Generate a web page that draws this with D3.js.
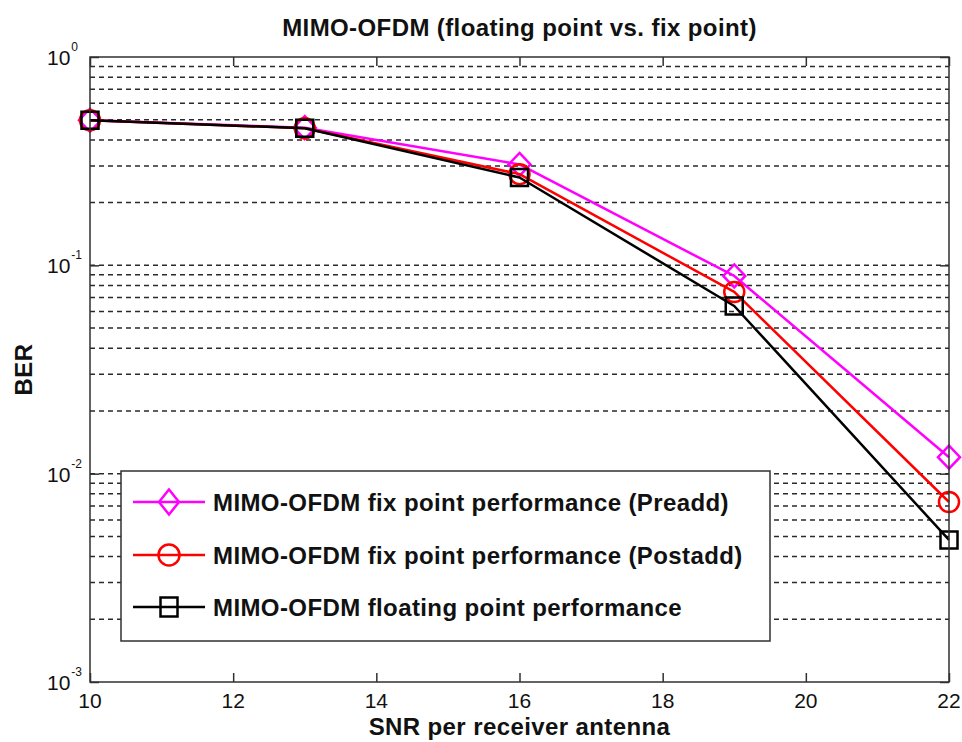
<!DOCTYPE html>
<html>
<head>
<meta charset="utf-8">
<script src="https://cdn.jsdelivr.net/npm/d3@7"></script>
<style>
  html, body { margin: 0; padding: 0; background: #fff; }
  svg { display: block; }
</style>
</head>
<body>
<svg id="chart" width="962" height="742"></svg>
<script>
// SNR points (dB) and BER for each receiver implementation
const snr = [10, 13, 16, 19, 22];
const berPreadd  = [0.497, 0.458, 0.305, 0.0889, 0.0120];
const berPostadd = [0.497, 0.455, 0.274, 0.0745, 0.00731];
const berFloat   = [0.497, 0.455, 0.264, 0.0638, 0.00481];

const xTicks = [10, 12, 14, 16, 18, 20, 22];
const yDecades = [-3, -2, -1, 0];

const seriesNames = [
  "MIMO-OFDM fix point performance (Preadd)",
  "MIMO-OFDM fix point performance (Postadd)",
  "MIMO-OFDM floating point performance"
];
const seriesColors = ["#ff00ff", "#ff0000", "#000000"];
const seriesMarkers = ["diamond", "circle", "square"];
const seriesValues = [berPreadd, berPostadd, berFloat];

const titleText = "MIMO-OFDM (floating point vs. fix point)";
const xLabelText = "SNR per receiver antenna";
const yLabelText = "BER";

const svg = d3.select("#chart");
const plot = { left: 90, right: 949, top: 57, bottom: 682 };

const x = d3.scaleLinear().domain([10, 22]).range([plot.left, plot.right]);
const y = d3.scaleLog().domain([1e-3, 1]).range([plot.bottom, plot.top]);

const boldFont = "'Liberation Sans', Arial, sans-serif";
const tickFont = "'Liberation Sans Narrow', 'Liberation Sans', Arial, sans-serif";
const boldSpacing = 0.4;

// Grid lines at every decade and sub-decade value inside the box
const gridVals = [];
for (let e = -3; e < 0; e++) {
  for (let m = 1; m <= 9; m++) {
    const v = m * Math.pow(10, e);
    if (v > 1e-3 && v < 1) gridVals.push(v);
  }
}
svg.append("g")
  .selectAll("line")
  .data(gridVals)
  .join("line")
  .attr("x1", plot.left)
  .attr("x2", plot.right)
  .attr("y1", d => y(d))
  .attr("y2", d => y(d))
  .attr("stroke", "#2a2a2a")
  .attr("stroke-width", 1.5)
  .attr("stroke-dasharray", "5,4");

// Axes with inward ticks on all four sides
const tickLen = 9;
const axisG = svg.append("g");
axisG.append("g")
  .attr("transform", `translate(0,${plot.bottom})`)
  .call(d3.axisBottom(x).tickValues(xTicks).tickSizeInner(-tickLen).tickSizeOuter(0).tickFormat(""))
  .call(g => g.select(".domain").remove());
axisG.append("g")
  .attr("transform", `translate(0,${plot.top})`)
  .call(d3.axisTop(x).tickValues(xTicks).tickSizeInner(-tickLen).tickSizeOuter(0).tickFormat(""))
  .call(g => g.select(".domain").remove());
const majorY = yDecades.map(e => Math.pow(10, e));
axisG.append("g")
  .attr("transform", `translate(${plot.left},0)`)
  .call(d3.axisLeft(y).tickValues(majorY).tickSizeInner(-tickLen).tickSizeOuter(0).tickFormat(""))
  .call(g => g.select(".domain").remove());
axisG.append("g")
  .attr("transform", `translate(${plot.right},0)`)
  .call(d3.axisRight(y).tickValues(majorY).tickSizeInner(-tickLen).tickSizeOuter(0).tickFormat(""))
  .call(g => g.select(".domain").remove());
axisG.selectAll("line").attr("stroke", "#303030").attr("stroke-width", 1.5);

// X tick labels
svg.append("g")
  .selectAll("text")
  .data(xTicks)
  .join("text")
  .attr("x", d => x(d))
  .attr("y", plot.bottom + 26)
  .attr("text-anchor", "middle")
  .attr("font-family", tickFont)
  .attr("font-size", 21)
  .attr("fill", "#111")
  .text(d => d);

// Y tick labels as powers of ten
const yl = svg.append("g")
  .selectAll("text")
  .data(yDecades)
  .join("text")
  .attr("x", 47)
  .attr("y", d => y(Math.pow(10, d)) + 8)
  .attr("font-family", tickFont)
  .attr("font-size", 21)
  .attr("fill", "#111");
yl.append("tspan").text("10");
yl.append("tspan")
  .attr("dy", -14)
  .attr("dx", 1)
  .attr("font-family", "'Liberation Sans', Arial, sans-serif")
  .attr("font-size", 12)
  .text(d => d === 0 ? "0" : String(d));

// Series lines and markers
function markerPath(type, cx, cy, s) {
  if (type === "diamond") {
    const hw = s.hw, hh = s.hh;
    return `M${cx},${cy - hh}L${cx + hw},${cy}L${cx},${cy + hh}L${cx - hw},${cy}Z`;
  }
  if (type === "square") {
    const hw = s.hw, hh = s.hh;
    return `M${cx - hw},${cy - hh}H${cx + hw}V${cy + hh}H${cx - hw}Z`;
  }
  const r = s.r;
  return `M${cx - r},${cy}A${r},${r} 0 1,0 ${cx + r},${cy}A${r},${r} 0 1,0 ${cx - r},${cy}Z`;
}
const plotSizes = {
  diamond: { hw: 11, hh: 11.5 },
  circle: { r: 10 },
  square: { hw: 8.5, hh: 8.5 }
};
const legendSizes = {
  diamond: { hw: 10, hh: 12.5 },
  circle: { r: 10.5 },
  square: { hw: 8.5, hh: 9.5 }
};

const line = d3.line().x(d => x(d[0])).y(d => y(d[1]));
seriesValues.forEach((vals, i) => {
  const pts = snr.map((s, j) => [s, vals[j]]);
  const g = svg.append("g");
  g.append("path")
    .attr("d", line(pts))
    .attr("fill", "none")
    .attr("stroke", seriesColors[i])
    .attr("stroke-width", 2.5)
    .attr("stroke-linejoin", "round");
  g.selectAll("path.mk")
    .data(pts)
    .join("path")
    .attr("class", "mk")
    .attr("d", d => markerPath(seriesMarkers[i], x(d[0]), y(d[1]), plotSizes[seriesMarkers[i]]))
    .attr("fill", "none")
    .attr("stroke", seriesColors[i])
    .attr("stroke-width", 2.5);
});

// Axis box
svg.append("rect")
  .attr("x", plot.left)
  .attr("y", plot.top)
  .attr("width", plot.right - plot.left)
  .attr("height", plot.bottom - plot.top)
  .attr("fill", "none")
  .attr("stroke", "#303030")
  .attr("stroke-width", 1.5);

// Legend
const legend = { left: 121, top: 471, right: 770, bottom: 641 };
svg.append("rect")
  .attr("x", legend.left)
  .attr("y", legend.top)
  .attr("width", legend.right - legend.left)
  .attr("height", legend.bottom - legend.top)
  .attr("fill", "#fff")
  .attr("stroke", "#303030")
  .attr("stroke-width", 1.5);
const legendRows = [502, 555, 607];
seriesNames.forEach((name, i) => {
  const cy = legendRows[i];
  svg.append("line")
    .attr("x1", 133).attr("x2", 205)
    .attr("y1", cy).attr("y2", cy)
    .attr("stroke", seriesColors[i])
    .attr("stroke-width", 2.5);
  svg.append("path")
    .attr("d", markerPath(seriesMarkers[i], 169, cy, legendSizes[seriesMarkers[i]]))
    .attr("fill", "none")
    .attr("stroke", seriesColors[i])
    .attr("stroke-width", 2.5);
  svg.append("text")
    .attr("x", 213)
    .attr("y", cy + 9)
    .attr("font-family", boldFont)
    .attr("font-weight", "bold")
    .attr("font-size", 24)
    .attr("letter-spacing", boldSpacing)
    .attr("fill", "#111")
    .text(name);
});

// Title and axis labels
svg.append("text")
  .attr("x", (plot.left + plot.right) / 2)
  .attr("y", 36)
  .attr("text-anchor", "middle")
  .attr("font-family", boldFont)
  .attr("font-weight", "bold")
  .attr("font-size", 24)
  .attr("letter-spacing", boldSpacing)
  .attr("fill", "#111")
  .text(titleText);
svg.append("text")
  .attr("x", (plot.left + plot.right) / 2)
  .attr("y", 735)
  .attr("text-anchor", "middle")
  .attr("font-family", boldFont)
  .attr("font-weight", "bold")
  .attr("font-size", 24)
  .attr("letter-spacing", boldSpacing)
  .attr("fill", "#111")
  .text(xLabelText);
svg.append("text")
  .attr("transform", `translate(32,${(plot.top + plot.bottom) / 2}) rotate(-90)`)
  .attr("text-anchor", "middle")
  .attr("font-family", boldFont)
  .attr("font-weight", "bold")
  .attr("font-size", 24)
  .attr("letter-spacing", boldSpacing)
  .attr("fill", "#111")
  .text(yLabelText);
</script>
</body>
</html>
